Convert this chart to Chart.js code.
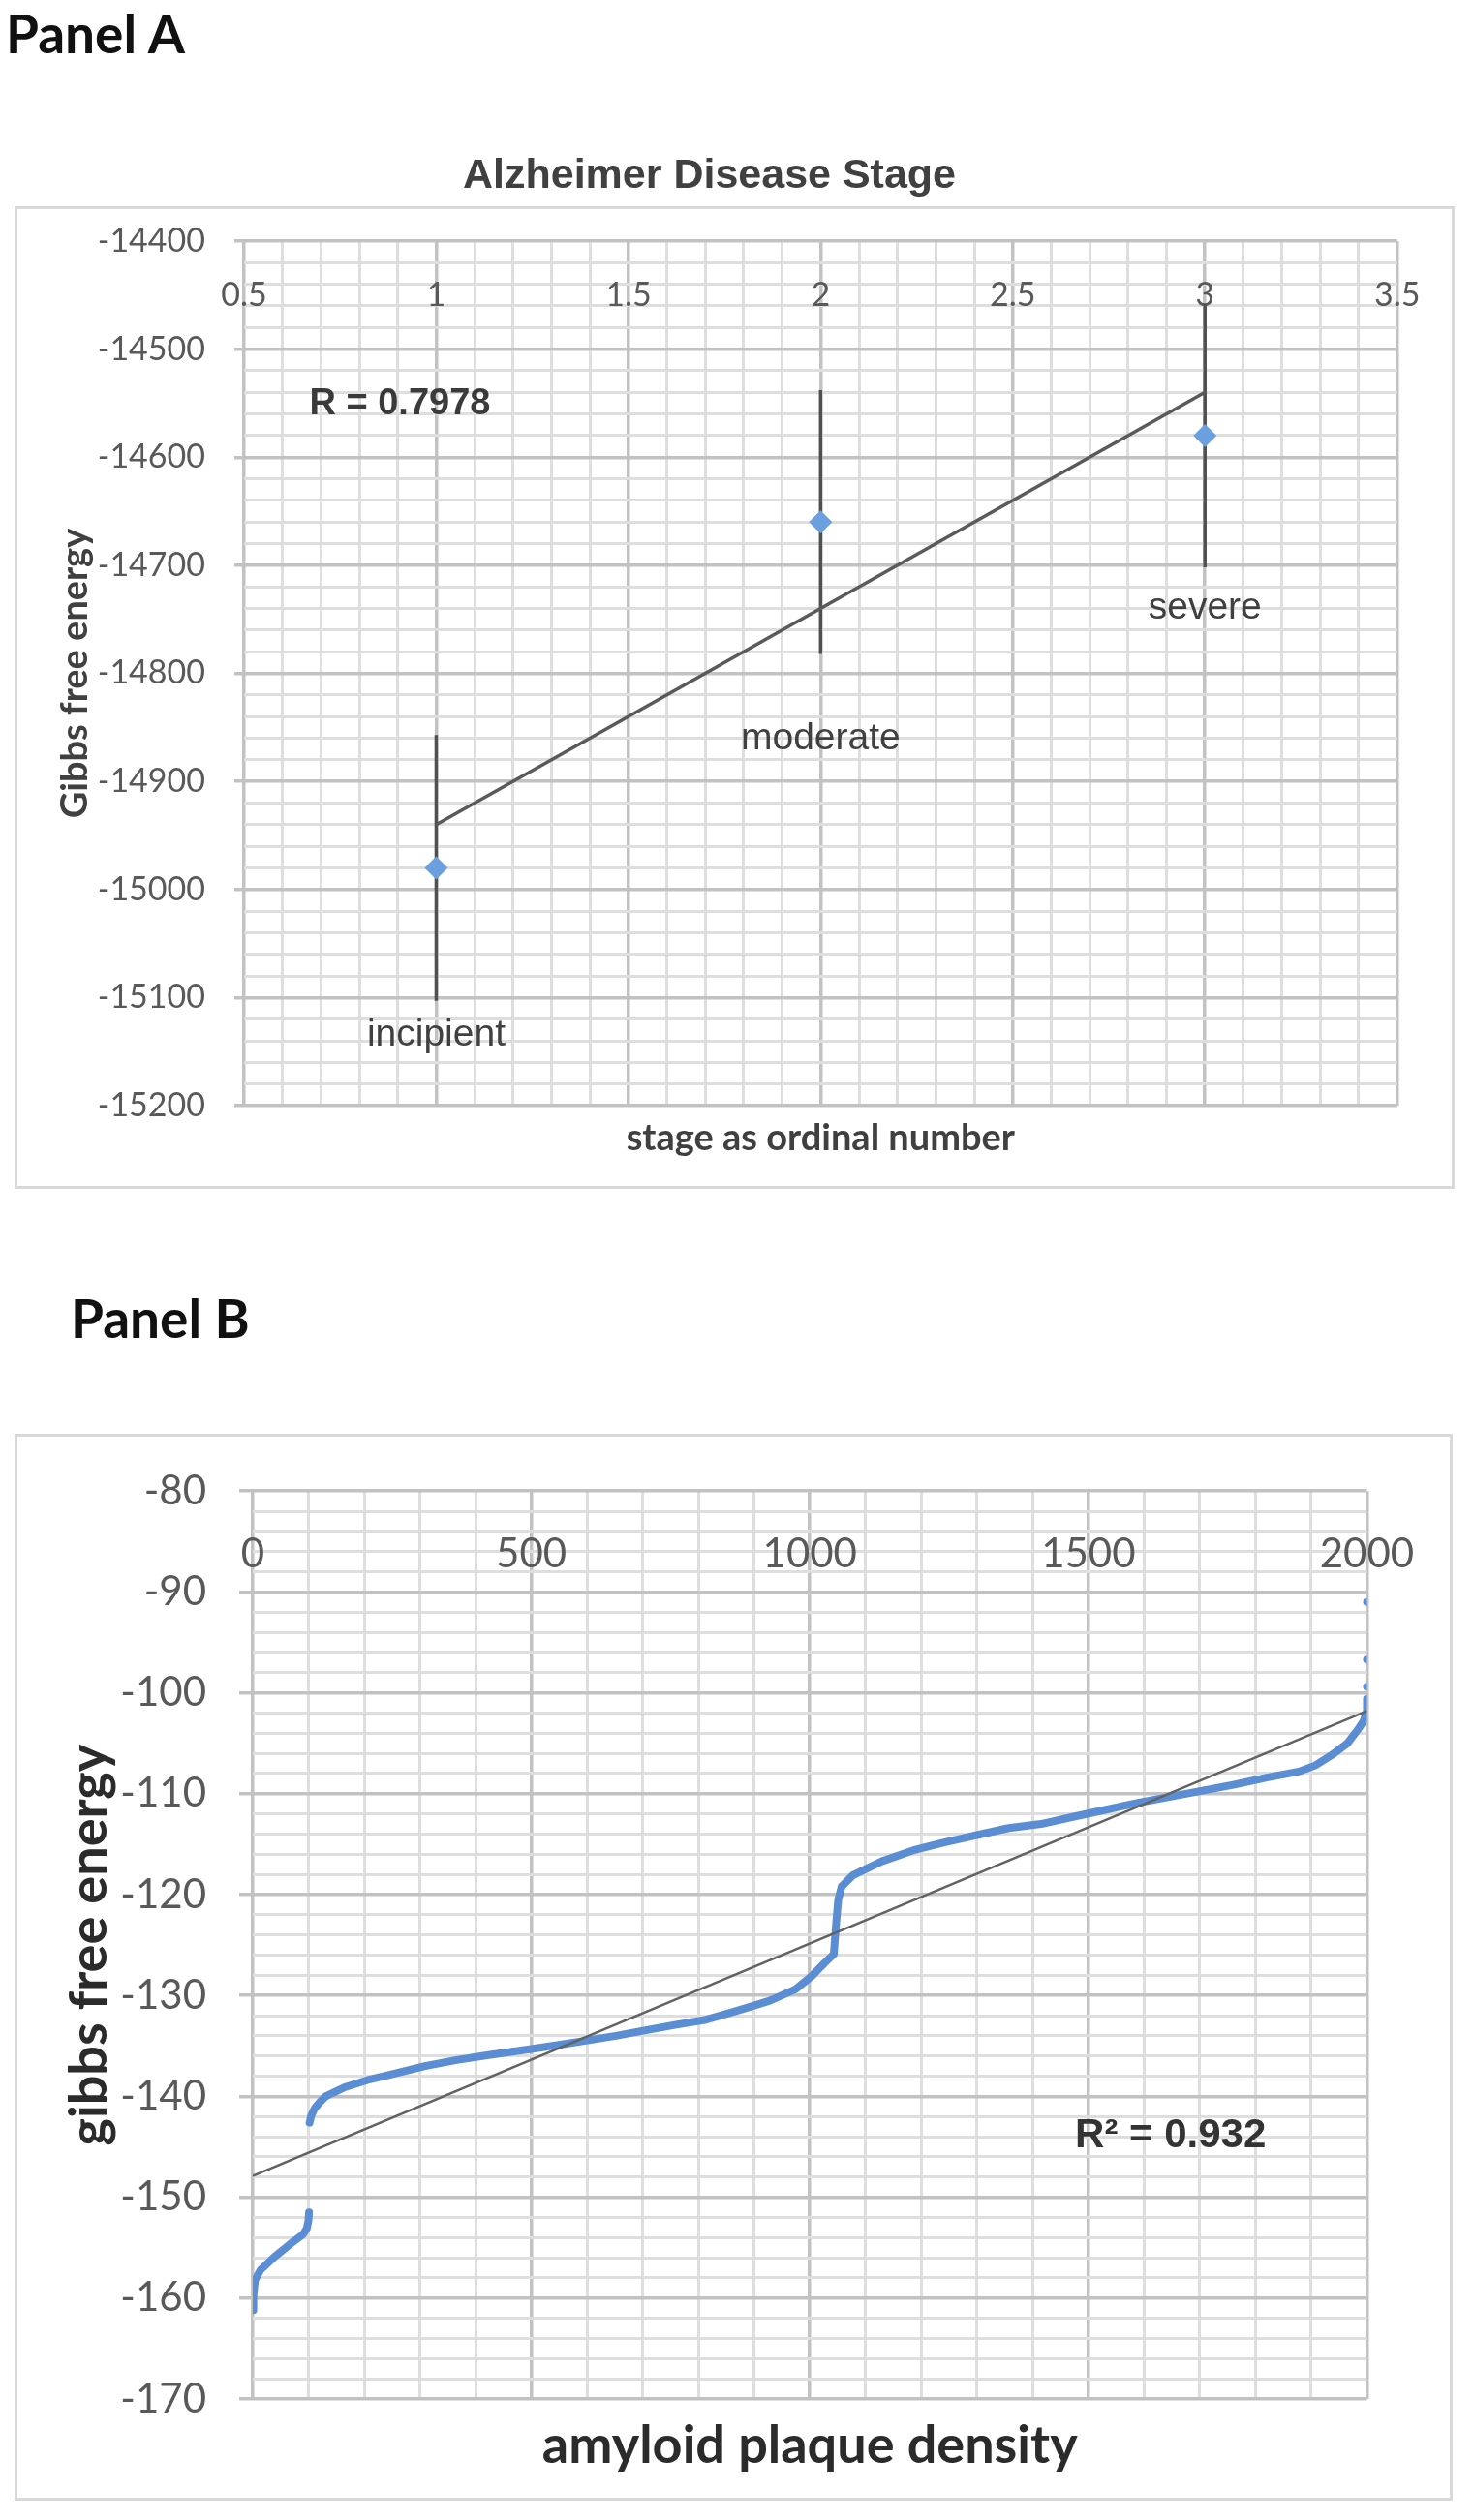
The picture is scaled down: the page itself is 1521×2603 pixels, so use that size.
<!DOCTYPE html>
<html>
<head>
<meta charset="utf-8">
<title>Panel A / Panel B</title>
<script src="https://cdn.jsdelivr.net/npm/chart.js@4.4.1/dist/chart.umd.min.js"></script>
<style>
  html, body { margin: 0; padding: 0; background: #fff; }
  body { position: relative; width: 1521px; height: 2603px; overflow: hidden; }
  .heading { position: absolute; font-family: Lato, "Open Sans", sans-serif; font-weight: 700; font-size: 55px; line-height: 55px; color: #111; }
  .box { position: absolute; box-sizing: border-box; border: 3px solid #d9d9d9; }
  canvas { position: absolute; }
</style>
</head>
<body>
<div class="heading" style="left:6px; top:7px;">Panel A</div>
<div class="box" style="left:15px; top:213px; width:1487px; height:1015px;"></div>
<canvas id="chartA" width="1487" height="1088" style="left:15px; top:140px;"></canvas>

<div class="heading" style="left:73px; top:1334px;">Panel B</div>
<div class="box" style="left:15px; top:1481px; width:1485px; height:1102px;"></div>
<canvas id="chartB" width="1485" height="1102" style="left:15px; top:1481px;"></canvas>

<script>
// ---- Panel A data ----
const stages = [1, 2, 3];
const stageNames = ['incipient', 'moderate', 'severe'];
const gibbsStage = [-14980, -14660, -14580];
const gibbsStageErr = [123, 122, 122];
const xLabelsA = [0.5, 1, 1.5, 2, 2.5, 3, 3.5];
const yLabelsA = [-14400, -14500, -14600, -14700, -14800, -14900, -15000, -15100, -15200];

// ---- Panel B data ----
const plaqueLow = [0, 1, 4, 14, 39, 68, 90, 97, 100, 101];
const gibbsLow = [-161.2, -159.8, -158.2, -157.2, -155.9, -154.6, -153.7, -153.1, -152.3, -151.5];
const plaqueHigh = [102, 105, 111, 120, 131, 150, 165, 205, 251, 309,
                    366, 423, 500, 538, 595, 652, 710, 760, 814, 858,
                    900, 929, 974, 1003, 1026, 1043, 1046, 1049, 1051, 1057,
                    1077, 1129, 1186, 1243, 1300, 1357, 1415, 1472, 1530, 1589,
                    1647, 1705, 1762, 1820, 1878, 1907, 1936, 1965, 1983, 1994,
                    2000, 2000];
const gibbsHigh = [-142.6, -141.9, -141.2, -140.6, -140.0, -139.5, -139.1, -138.4, -137.8, -137.0,
                   -136.4, -135.9, -135.3, -135.0, -134.5, -134.0, -133.4, -132.9, -132.4, -131.7,
                   -131.0, -130.5, -129.4, -128.1, -126.8, -125.9, -123.7, -121.7, -120.5, -119.2,
                   -118.1, -116.7, -115.6, -114.8, -114.1, -113.4, -113.0, -112.3, -111.6, -110.9,
                   -110.3, -109.7, -109.1, -108.4, -107.8, -107.2, -106.2, -105.0, -103.7, -102.8,
                   -101.8, -100.6];
const plaqueOutliers = [2000, 2000, 2000];
const gibbsOutliers = [-99.4, -96.7, -91.0];
const trendPlaque = [0, 2000];
const trendGibbs = [-147.9, -101.8];
const xLabelsB = [0, 500, 1000, 1500, 2000];
const yLabelsB = [-80, -90, -100, -110, -120, -130, -140, -150, -160, -170];

const gridMinor = '#dedede';
const gridMajor = '#c2c2c2';
const isMajor = (v, step) => Math.abs(v / step - Math.round(v / step)) < 1e-6;

// draws free text (data labels, R values) at data coordinates
const notesPlugin = {
    id: 'notes',
    afterDatasetsDraw(chart, args, opts) {
        const {ctx, scales} = chart;
        (opts.items || []).forEach(it => {
            ctx.save();
            ctx.font = it.font;
            ctx.fillStyle = it.color;
            ctx.textAlign = it.align || 'center';
            ctx.textBaseline = 'middle';
            ctx.fillText(it.text, scales.x.getPixelForValue(it.x), scales.y.getPixelForValue(it.y));
            ctx.restore();
        });
    }
};

// least squares trend for the stage points
function linearFit(xs, ys) {
    const n = xs.length;
    const mx = xs.reduce((a, b) => a + b, 0) / n;
    const my = ys.reduce((a, b) => a + b, 0) / n;
    let sxy = 0, sxx = 0;
    xs.forEach((x, i) => { sxy += (x - mx) * (ys[i] - my); sxx += (x - mx) * (x - mx); });
    const slope = sxy / sxx;
    return x => my + slope * (x - mx);
}
const fitA = linearFit(stages, gibbsStage);

// ========= Panel A =========
const errorBars = stages.map((s, i) => ({
    type: 'line',
    data: [{x: s, y: gibbsStage[i] - gibbsStageErr[i]}, {x: s, y: gibbsStage[i] + gibbsStageErr[i]}],
    borderColor: '#505050',
    borderWidth: 3.5,
    pointRadius: 0
}));

new Chart(document.getElementById('chartA'), {
    type: 'scatter',
    data: {
        datasets: [{
            data: stages.map((s, i) => ({x: s, y: gibbsStage[i]})),
            pointStyle: 'rectRot',
            pointRadius: 12,
            backgroundColor: '#6c9fe0',
            borderWidth: 0
        }, {
            type: 'line',
            data: [stages[0], stages[stages.length - 1]].map(s => ({x: s, y: fitA(s)})),
            borderColor: '#5a5a5a',
            borderWidth: 3.5,
            pointRadius: 0
        }, ...errorBars]
    },
    plugins: [notesPlugin],
    options: {
        responsive: false,
        animation: false,
        devicePixelRatio: 1,
        layout: { padding: { left: 0, right: 52, top: 0, bottom: 0 } },
        plugins: {
            legend: { display: false },
            tooltip: { enabled: false },
            title: {
                display: true,
                text: 'Alzheimer Disease Stage',
                color: '#404040',
                font: { family: '"Liberation Sans", Arial, sans-serif', size: 43, weight: 'bold', lineHeight: 1.2 },
                padding: { top: 16, bottom: 41.4 }
            },
            notes: {
                items: [
                    { text: 'R = 0.7978', x: 0.67, y: -14551, align: 'left', color: '#3a3a3a',
                      font: 'bold 38px "Liberation Sans", Arial, sans-serif' },
                    ...stageNames.map((name, i) => ({
                        text: name, x: stages[i], y: [-15135, -14861, -14740][i], color: '#404040',
                        font: '39px "Liberation Sans", Arial, sans-serif'
                    }))
                ]
            }
        },
        scales: {
            x: {
                type: 'linear',
                position: 'bottom',
                min: 0.5,
                max: 3.5,
                ticks: { stepSize: 0.1, display: false },
                grid: {
                    drawTicks: false,
                    lineWidth: ctx => isMajor(ctx.tick.value, 0.5) ? 3.5 : 3,
                    color: ctx => isMajor(ctx.tick.value, 0.5) ? gridMajor : gridMinor
                },
                border: { display: false },
                title: {
                    display: true,
                    text: 'stage as ordinal number',
                    color: '#404040',
                    font: { family: 'Lato, sans-serif', size: 38, weight: 'bold', lineHeight: 1.2 },
                    padding: { top: 0, bottom: 29.2 }
                },
                afterFit: s => { s.height = 86; }
            },
            xTop: {
                type: 'linear',
                axis: 'x',
                position: { y: -14400 },
                min: 0.5,
                max: 3.5,
                afterBuildTicks: s => { s.ticks = xLabelsA.map(v => ({value: v})); },
                ticks: {
                    autoSkip: false,
                    maxRotation: 0,
                    padding: 35.6,
                    color: '#595959',
                    font: { family: 'Lato, sans-serif', size: 34, lineHeight: 1.2 },
                    callback: v => String(v)
                },
                grid: { display: false, drawTicks: false },
                border: { display: false }
            },
            y: {
                min: -15200,
                max: -14400,
                ticks: {
                    stepSize: 20,
                    autoSkip: false,
                    padding: 30,
                    color: '#595959',
                    font: { family: 'Lato, sans-serif', size: 34, lineHeight: 1.2 },
                    callback: v => yLabelsA.includes(v) ? String(v) : ''
                },
                grid: {
                    tickLength: 10,
                    lineWidth: ctx => isMajor(ctx.tick.value, 100) ? 3.5 : 3,
                    color: ctx => isMajor(ctx.tick.value, 100) ? gridMajor : gridMinor,
                    tickColor: ctx => isMajor(ctx.tick.value, 100) ? gridMajor : 'rgba(0,0,0,0)'
                },
                border: { display: false },
                title: {
                    display: true,
                    text: 'Gibbs free energy',
                    color: '#404040',
                    font: { family: 'Lato, sans-serif', size: 38, weight: 'bold', lineHeight: 1.2 },
                    padding: { top: 40.2, bottom: 0 }
                },
                afterFit: s => { s.width = 237; }
            }
        }
    }
});

// ========= Panel B =========
const blue = '#5a8dd3';
new Chart(document.getElementById('chartB'), {
    type: 'scatter',
    data: {
        datasets: [{
            type: 'line',
            data: trendPlaque.map((p, i) => ({x: p, y: trendGibbs[i]})),
            borderColor: '#626262',
            borderWidth: 2.5,
            pointRadius: 0
        }, {
            type: 'line',
            data: plaqueLow.map((p, i) => ({x: p, y: gibbsLow[i]})),
            borderColor: blue,
            borderWidth: 8,
            borderCapStyle: 'round',
            borderJoinStyle: 'round',
            pointRadius: 0
        }, {
            type: 'line',
            data: plaqueHigh.map((p, i) => ({x: p, y: gibbsHigh[i]})),
            borderColor: blue,
            borderWidth: 8,
            borderCapStyle: 'round',
            borderJoinStyle: 'round',
            pointRadius: 0
        }, {
            data: plaqueOutliers.map((p, i) => ({x: p, y: gibbsOutliers[i]})),
            pointRadius: 4,
            backgroundColor: blue,
            borderWidth: 0
        }]
    },
    plugins: [notesPlugin],
    options: {
        responsive: false,
        animation: false,
        devicePixelRatio: 1,
        layout: { padding: { left: 0, right: 75, top: 39, bottom: 0 } },
        plugins: {
            legend: { display: false },
            tooltip: { enabled: false },
            notes: {
                items: [
                    { text: 'R\u00B2 = 0.932', x: 1476, y: -143.9, align: 'left', color: '#333333',
                      font: 'bold 42px "Liberation Sans", Arial, sans-serif' }
                ]
            }
        },
        scales: {
            x: {
                type: 'linear',
                position: 'bottom',
                min: 0,
                max: 2000,
                ticks: { stepSize: 100, display: false },
                grid: {
                    drawTicks: false,
                    lineWidth: ctx => isMajor(ctx.tick.value, 500) ? 3.5 : 3,
                    color: ctx => isMajor(ctx.tick.value, 500) ? gridMajor : gridMinor
                },
                border: { display: false },
                title: {
                    display: true,
                    text: 'amyloid plaque density',
                    color: '#2b2b2b',
                    font: { family: 'Lato, sans-serif', size: 54, weight: 'bold', lineHeight: 1.2 },
                    padding: { top: 0, bottom: 23.6 }
                },
                afterFit: s => { s.height = 105; }
            },
            xTop: {
                type: 'linear',
                axis: 'x',
                position: { y: -80 },
                min: 0,
                max: 2000,
                afterBuildTicks: s => { s.ticks = xLabelsB.map(v => ({value: v})); },
                ticks: {
                    autoSkip: false,
                    maxRotation: 0,
                    padding: 39.8,
                    color: '#595959',
                    font: { family: 'Lato, sans-serif', size: 42, lineHeight: 1.2 },
                    callback: v => String(v)
                },
                grid: { display: false, drawTicks: false },
                border: { display: false }
            },
            y: {
                min: -170,
                max: -80,
                ticks: {
                    stepSize: 2,
                    autoSkip: false,
                    padding: 34,
                    color: '#595959',
                    font: { family: 'Lato, sans-serif', size: 42, lineHeight: 1.2 },
                    callback: v => yLabelsB.includes(v) ? String(v) : ''
                },
                grid: {
                    tickLength: 14,
                    lineWidth: ctx => isMajor(ctx.tick.value, 10) ? 3.5 : 3,
                    color: ctx => isMajor(ctx.tick.value, 10) ? gridMajor : gridMinor,
                    tickColor: ctx => isMajor(ctx.tick.value, 10) ? gridMajor : 'rgba(0,0,0,0)'
                },
                border: { display: false },
                title: {
                    display: true,
                    text: 'gibbs free energy',
                    color: '#2b2b2b',
                    font: { family: 'Lato, sans-serif', size: 54, weight: 'bold', lineHeight: 1.2 },
                    padding: { top: 45.6, bottom: 0 }
                },
                afterFit: s => { s.width = 246; }
            }
        }
    }
});
</script>
</body>
</html>
